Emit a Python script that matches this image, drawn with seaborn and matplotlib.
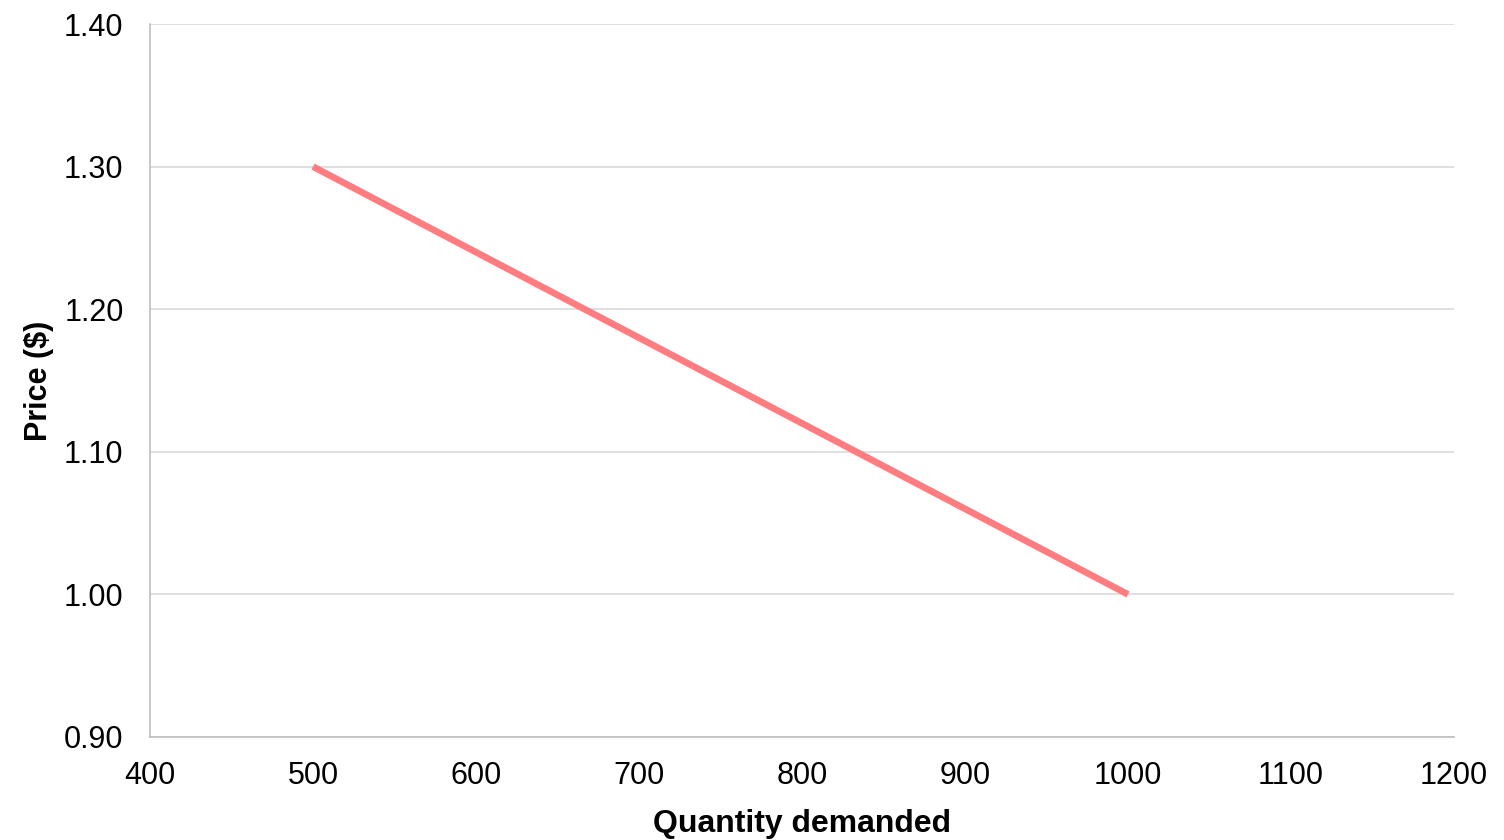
import matplotlib
matplotlib.use("Agg")
import matplotlib.pyplot as plt
import seaborn as sns
import pandas as pd

quantity = [500, 1000]
price = [1.30, 1.00]

x_ticks = [400, 500, 600, 700, 800, 900, 1000, 1100, 1200]
y_ticks = [0.90, 1.00, 1.10, 1.20, 1.30, 1.40]

sns.set_theme(style="white")
plt.rcParams["font.family"] = ["Liberation Sans", "DejaVu Sans"]

df = pd.DataFrame({"Quantity demanded": quantity, "Price ($)": price})

fig = plt.figure(figsize=(15.04, 8.4), dpi=100)
ax = fig.add_axes([150 / 1504, 1 - 737 / 840, (1454 - 150) / 1504, (737 - 24) / 840])

sns.lineplot(data=df, x="Quantity demanded", y="Price ($)", ax=ax,
             color="#FF7C80", linewidth=4.8, solid_capstyle="butt")

ax.set_xlim(400, 1200)
ax.set_ylim(0.90, 1.40)
ax.set_xticks(x_ticks)
ax.set_xticklabels([str(v) for v in x_ticks])
ax.set_yticks(y_ticks)
ax.set_yticklabels([f"{v:.2f}" for v in y_ticks])

ax.grid(axis="y", color="#D9D9D9", linewidth=1.2)
ax.grid(axis="x", visible=False)
ax.set_axisbelow(True)

for side in ["top", "right"]:
    ax.spines[side].set_visible(False)
for side in ["left", "bottom"]:
    ax.spines[side].set_color("#BFBFBF")
    ax.spines[side].set_linewidth(1.2)

ax.tick_params(axis="both", length=0, labelsize=22, colors="black")
ax.tick_params(axis="y", pad=19)
ax.tick_params(axis="x", pad=17)

ax.set_xlabel("Quantity demanded", fontsize=23, fontweight="bold",
              color="black", labelpad=13)
ax.set_ylabel("Price ($)", fontsize=22, fontweight="bold",
              color="black", labelpad=7)

fig.savefig("out.png", dpi=100)
